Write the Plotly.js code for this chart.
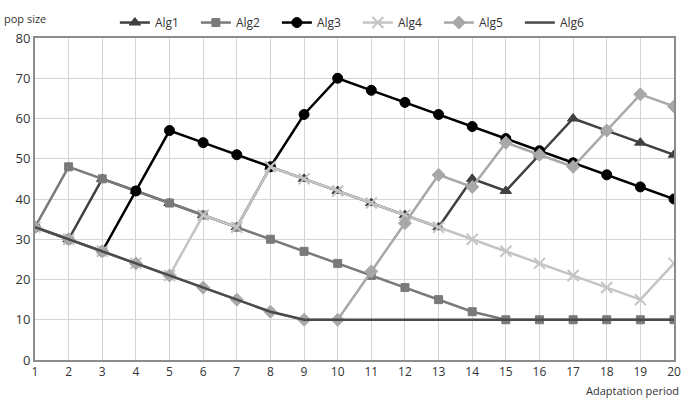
<!DOCTYPE html>
<html><head><meta charset="utf-8">
<script src="https://cdn.plot.ly/plotly-3.0.1.min.js"></script>
<style>html,body{margin:0;padding:0;background:#fff}#c{width:682px;height:404px}</style>
</head><body><div id="c"></div>
<script>
const periods = [1,2,3,4,5,6,7,8,9,10,11,12,13,14,15,16,17,18,19,20];
const alg1 = [33,30,45,42,39,36,33,48,45,42,39,36,33,45,42,51,60,57,54,51];
const alg2 = [33,48,45,42,39,36,33,30,27,24,21,18,15,12,10,10,10,10,10,10];
const alg3 = [33,30,27,42,57,54,51,48,61,70,67,64,61,58,55,52,49,46,43,40];
const alg4 = [33,30,27,24,21,36,33,48,45,42,39,36,33,30,27,24,21,18,15,24];
const alg5 = [33,30,27,24,21,18,15,12,10,10,22,34,46,43,54,51,48,57,66,63];
const alg6 = [33,30,27,24,21,18,15,12,10,10,10,10,10,10,10,10,10,10,10,10];
const yTicks = [0,10,20,30,40,50,60,70,80];

function tr(name, y, color, symbol, size, width) {
  const t = {x: periods, y: y, name: name, type: 'scatter',
    mode: symbol ? 'lines+markers' : 'lines',
    line: {color: color, width: width || 2.5}};
  if (symbol) t.marker = {symbol: symbol, size: size, color: color, line: {color: color, width: 1}};
  return t;
}
const data = [
  tr('Alg1', alg1, '#404040', 'triangle-up', 10),
  tr('Alg2', alg2, '#7a7a7a', 'square', 8),
  tr('Alg3', alg3, '#000000', 'circle', 10),
  tr('Alg4', alg4, '#c4c4c4', 'x-thin', 11),
  tr('Alg5', alg5, '#a8a8a8', 'diamond', 10),
  tr('Alg6', alg6, '#4a4a4a', null, 0, 2.5)
];
data[3].marker.line.width = 2;
const layout = {
  width: 682, height: 404,
  margin: {l: 35, r: 8, t: 30, b: 44},
  paper_bgcolor: '#fff', plot_bgcolor: '#fff',
  font: {family: 'Open Sans, sans-serif', size: 12, color: '#333'},
  showlegend: true,
  legend: {orientation: 'h', x: 0.125, xanchor: 'left', y: 1.048, yanchor: 'middle',
    entrywidth: 36, entrywidthmode: 'pixels',
    font: {size: 12, color: '#333'}, bgcolor: 'rgba(0,0,0,0)', tracegroupgap: 0},
  xaxis: {range: [1, 20], tickvals: periods, ticktext: periods.map(String),
    showgrid: true, gridcolor: '#d4d4d4', gridwidth: 1,
    showline: true, linecolor: '#8c8c8c', linewidth: 2, mirror: true,
    ticks: '', zeroline: false, ticklabeloverflow: 'allow', tickfont: {size: 12, color: '#333'}},
  yaxis: {range: [0, 80], tickvals: yTicks, showgrid: true, gridcolor: '#d4d4d4', gridwidth: 1,
    showline: true, linecolor: '#8c8c8c', linewidth: 2, mirror: true,
    ticks: '', zeroline: false, tickfont: {size: 13, color: '#333'}},
  annotations: [
    {text: 'pop size', xref: 'paper', yref: 'paper', x: -0.0516, y: 1.062, xanchor: 'left', yanchor: 'middle',
      showarrow: false, font: {size: 11, color: '#333'}},
    {text: 'Adaptation period', xref: 'paper', yref: 'paper', x: 1.011, y: -0.096, xanchor: 'right', yanchor: 'middle',
      showarrow: false, font: {size: 11, color: '#333'}}
  ]
};
Plotly.newPlot('c', data, layout, {displayModeBar: false, staticPlot: true});
</script></body></html>
